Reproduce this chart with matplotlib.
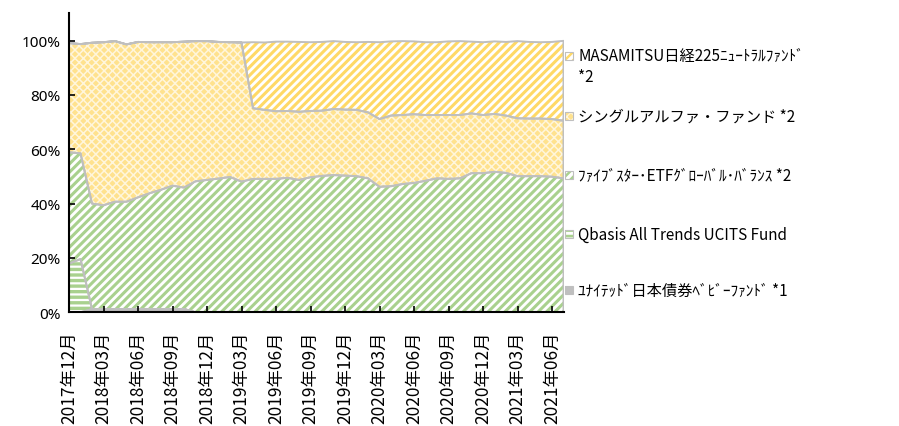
import matplotlib
matplotlib.use("Agg")
import matplotlib.pyplot as plt
import numpy as np
from matplotlib.patches import Rectangle

plt.rcParams['font.family'] = ['Noto Sans CJK JP', 'DejaVu Sans']
plt.rcParams['hatch.linewidth'] = 2.2

# ---- data (percent of portfolio), monthly 2017-12 .. 2021-07 ----
months = [f"{y}年{m:02d}月" for y in range(2017, 2022) for m in range(1, 13)]
months = months[11:11 + 44]

united = [0, 0, 1.2, 1.2, 1.2, 1.2, 1.2, 1.2, 1.2, 1.2, 1.2] + [0] * 33
qbasis = [17.9, 19.6] + [0] * 42
fivestar = [41.0, 38.9, 38.8, 38.2, 39.5, 39.5, 41.1, 42.6, 43.9, 45.4, 44.7,
            48.2, 48.7, 49.2, 49.8, 48.1, 49.1, 49.1, 49.1, 49.5, 48.7, 49.7,
            50.2, 50.5, 50.3, 50.1, 49.3, 46.2, 46.4, 47.2, 47.6, 48.4, 49.3,
            49.1, 49.3, 51.2, 51.2, 51.7, 51.3, 50.1, 50.1, 50.1, 49.9, 49.3]
single = [40.2, 40.2, 59.2, 60.0, 59.1, 57.9, 57.2, 55.6, 54.3, 52.8, 53.7,
          51.6, 51.1, 50.3, 49.6, 51.2, 26.0, 25.4, 24.9, 24.6, 25.1, 24.4,
          24.0, 24.3, 24.3, 24.4, 24.3, 24.9, 26.0, 25.4, 25.3, 24.2, 23.3,
          23.5, 23.3, 22.0, 21.4, 21.3, 21.1, 21.3, 21.2, 21.2, 21.2, 21.2]
masamitsu = [0] * 16 + [24.3, 24.8, 25.6, 25.5, 25.7, 25.3, 25.3, 25.0, 24.9,
                        24.9, 25.9, 28.3, 27.3, 27.2, 26.8, 26.8, 26.8, 27.1,
                        27.2, 26.4, 26.8, 26.7, 27.1, 28.4, 28.2, 28.1, 28.4, 29.4]

labels = ["ﾕﾅｲﾃｯﾄﾞ日本債券ﾍﾞﾋﾞｰﾌｧﾝﾄﾞ *1",
          "Qbasis All Trends UCITS Fund",
          "ﾌｧｲﾌﾞｽﾀｰ･ETFｸﾞﾛｰﾊﾞﾙ･ﾊﾞﾗﾝｽ *2",
          "シングルアルファ・ファンド *2",
          "MASAMITSU日経225ﾆｭｰﾄﾗﾙﾌｧﾝﾄﾞ\n*2"]

# styles: (facecolor, hatch colour, hatch, hatch linewidth)
styles = [("#BFBFBF", "#BFBFBF", None, 1.0),
          ("white", "#A9D18E", "---", 2.4),
          ("white", "#A9D18E", "////", 2.2),
          ("#FFE28E", "#FFF6DC", "xxxx", 1.1),
          ("white", "#FFD966", "////", 2.2)]
border = "#BFBFBF"


def style_patch(p, fc, hc, h, hlw):
    p.set_facecolor(fc)
    if h:
        p.set_hatch(h)
        p.set_edgecolor(hc)
        if hasattr(p, "set_hatch_linewidth"):
            p.set_hatch_linewidth(hlw)
    p.set_linewidth(0)


fig = plt.figure(figsize=(8.99, 4.27), dpi=100)
ax = fig.add_axes([69 / 899, (427 - 313.3) / 427, (563.5 - 69) / 899, (313.3 - 14.4) / 427])

x = np.arange(len(months))
series = [united, qbasis, fivestar, single, masamitsu]
polys = ax.stackplot(x, *series, colors=[s[0] for s in styles], linewidth=0)
for p, st in zip(polys, styles):
    style_patch(p, *st)
outl = ax.stackplot(x, *series, colors=['none'] * 5)
for p in outl:
    p.set_facecolor('none')
    p.set_edgecolor(border)
    p.set_linewidth(1.4)

ax.set_xlim(0, len(months) - 1)
ax.set_ylim(0, 110)
ax.set_yticks(range(0, 101, 20))
ax.set_yticklabels([f"{v}%" for v in range(0, 101, 20)], fontsize=11,
                   family=['Noto Sans', 'DejaVu Sans'])
ax.set_xticks(x[::3])
ax.set_xticklabels(months[::3], rotation=90, fontsize=12.5)
ax.tick_params(axis='both', direction='in', length=4, width=1.2, color='black')
ax.tick_params(axis='x', pad=13)
ax.tick_params(axis='y', pad=6)
for s in ['top', 'right']:
    ax.spines[s].set_visible(False)
for s in ['left', 'bottom']:
    ax.spines[s].set_linewidth(1.5)
    ax.spines[s].set_color('black')
    ax.spines[s].set_zorder(5)

# legend (manual, top entry first)
ypos = [291, 235, 176, 117, 57]
bx, tx = 565, 578
for i in range(5):
    fc, hc, h, hlw = styles[i]
    yc = ypos[i]
    r = Rectangle((bx / 899, 1 - (yc + 4) / 427), 8 / 899, 8 / 427,
                  transform=fig.transFigure)
    style_patch(r, fc, hc, h, hlw * 0.8)
    fig.add_artist(r)
    r2 = Rectangle((bx / 899, 1 - (yc + 4) / 427), 8 / 899, 8 / 427,
                   transform=fig.transFigure, facecolor='none',
                   edgecolor=border, linewidth=0.8)
    fig.add_artist(r2)
    lab = labels[i]
    if "\n" in lab:
        l1, l2 = lab.split("\n")
        fig.text(tx / 899, 1 - yc / 427, l1, fontsize=11, va='center', ha='left')
        fig.text(tx / 899, 1 - (yc + 21) / 427, l2, fontsize=11, va='center', ha='left')
    else:
        fig.text(tx / 899, 1 - yc / 427, lab, fontsize=11, va='center', ha='left')

fig.savefig("out.png", dpi=100)
